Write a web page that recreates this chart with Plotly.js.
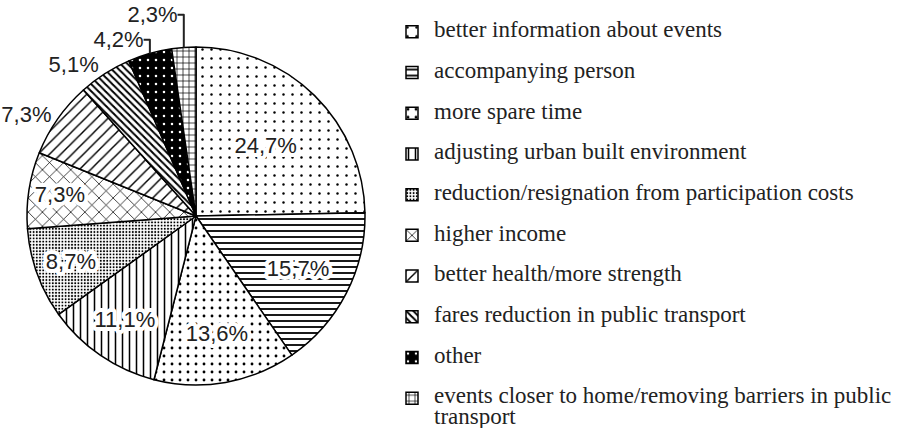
<!DOCTYPE html>
<html>
<head>
<meta charset="utf-8">
<script src="https://cdn.plot.ly/plotly-3.0.1.min.js"></script>
<style>html,body{margin:0;padding:0;background:#fff}</style>
</head>
<body>
<div id="chart" style="width:915px;height:428px"></div>
<script>
// ---- data ----
const categories = [
  'better information about events',
  'accompanying person',
  'more spare time',
  'adjusting urban built environment',
  'reduction/resignation from participation costs',
  'higher income',
  'better health/more strength',
  'fares reduction in public transport',
  'other',
  'events closer to home/removing barriers in public<br>transport'
];
const shares = [24.7, 15.7, 13.6, 11.1, 8.7, 7.3, 7.3, 5.1, 4.2, 2.3];

// ---- styles ----
const patShape = ['.', '-', '.', '|', '.', 'x', '/', '\\', '.', '+'];
const patSize  = [9, 6, 8, 7, 3.2, 10, 8, 5, 8, 6];
const patSolid = [0.06, 0.3, 0.1, 0.22, 0.3, 0.14, 0.18, 0.4, 0.08, 0.22];
const patFg    = ['#000','#000','#000','#000','#000','#000','#000','#000','#fff','#000'];
const patBg    = ['#fff','#fff','#fff','#fff','#fff','#fff','#fff','#fff','#000','#fff'];
const textPos  = ['inside','inside','inside','inside','inside','inside','outside','outside','outside','outside'];

const firstLine = '<span style="font-size:23px;baseline-shift:6px">';
const nextLine  = '<span style="font-size:23px;baseline-shift:11px">';
const legendLabels = categories.map(c => {
  const parts = c.split('<br>');
  let s = firstLine + parts[0] + '</span>';
  if (parts.length > 1) s += '<br><sup>' + nextLine + parts[1] + '</span></sup>';
  return s;
});

const trace = {
  type: 'pie',
  labels: legendLabels,
  values: shares,
  sort: false,
  direction: 'clockwise',
  rotation: 0,
  texttemplate: '<span style="stroke:#fff;stroke-width:8px;stroke-linejoin:round;paint-order:stroke fill">%{value:.1f}%</span>',
  textposition: textPos,
  insidetextorientation: 'horizontal',
  textfont: {family: 'Liberation Sans, Arial, sans-serif', size: 22, color: '#222'},
  insidetextfont: {family: 'Liberation Sans, Arial, sans-serif', size: 22, color: '#222'},
  outsidetextfont: {family: 'Liberation Sans, Arial, sans-serif', size: 22, color: '#222'},
  hoverinfo: 'none',
  domain: {x: [27/915, 365/915], y: [1 - 385/428, 1 - 47/428]},
  marker: {
    line: {color: '#000', width: 1.5},
    pattern: {
      shape: patShape,
      size: patSize,
      solidity: patSolid,
      fgcolor: patFg,
      bgcolor: patBg,
      fillmode: 'replace'
    }
  }
};

const layout = {
  width: 915,
  height: 428,
  margin: {l: 0, r: 0, t: 0, b: 0, autoexpand: false},
  paper_bgcolor: '#fff',
  separators: ',.',
  showlegend: true,
  legend: {
    x: 390/915, xanchor: 'left',
    y: 1 - 6.5/428, yanchor: 'top',
    font: {family: 'Liberation Serif, Times New Roman, serif', size: 29, color: '#222'},
    itemwidth: 34,
    maxheight: 2000,
    traceorder: 'normal',
    bgcolor: 'rgba(0,0,0,0)',
    valign: 'top'
  }
};

Plotly.newPlot('chart', [trace], layout, {displayModeBar: false, staticPlot: true});
</script>
</body>
</html>
